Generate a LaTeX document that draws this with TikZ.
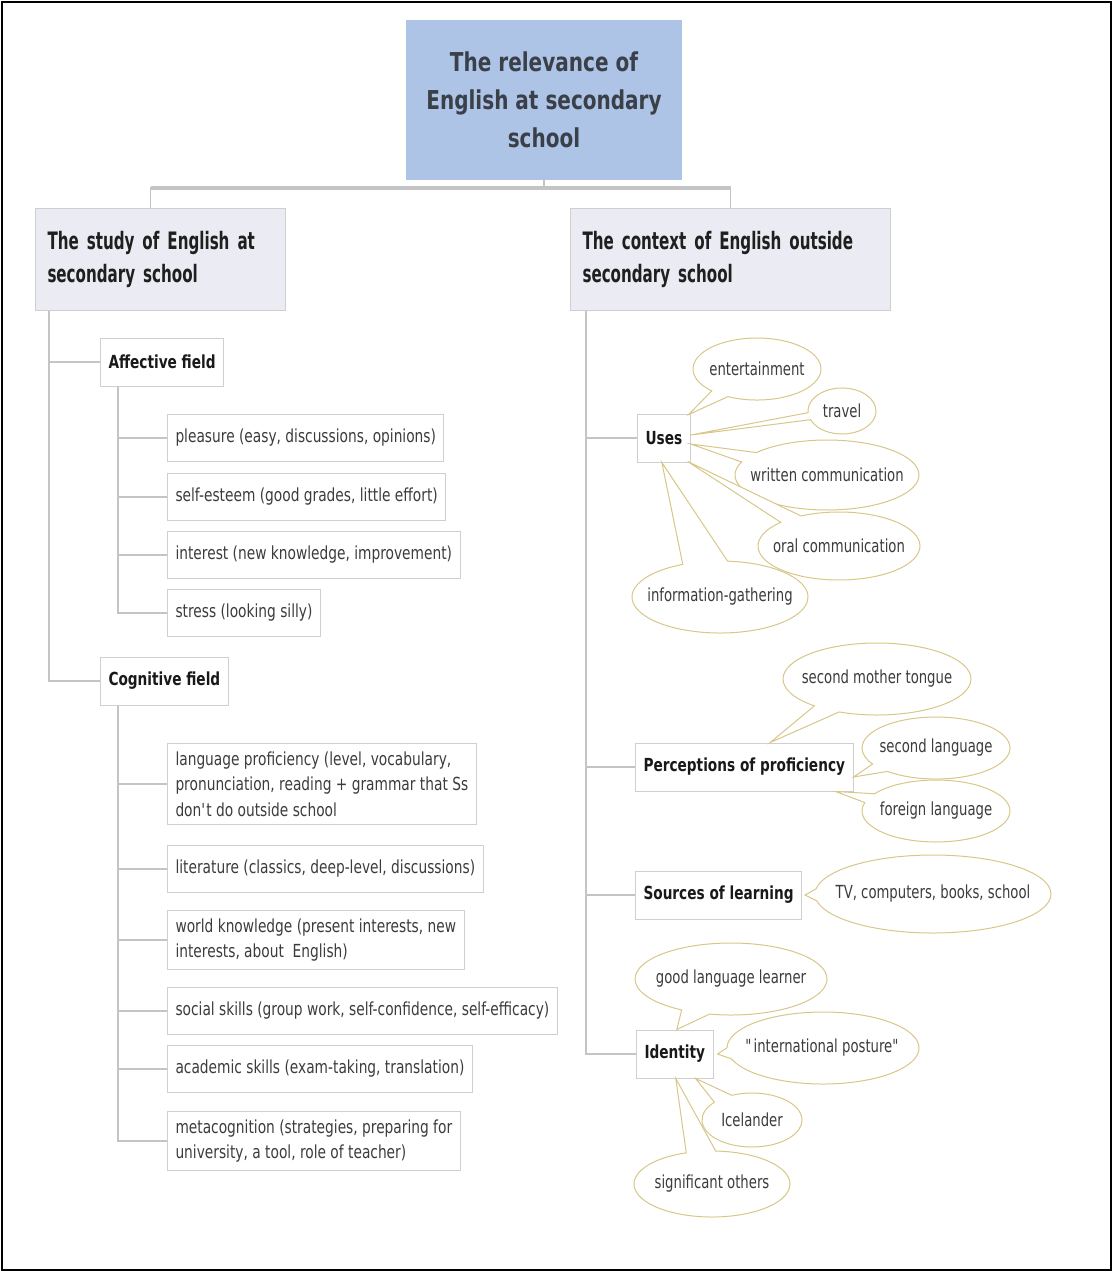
\documentclass[tikz,border=0pt]{standalone}
\usepackage{fontspec}
\setmainfont{DejaVu Sans}[FakeStretch=0.75]
\newfontfamily\rootfont{DejaVu Sans}[FakeStretch=0.77]
\newfontfamily\topicfont{DejaVu Sans}[FakeStretch=0.63, WordSpace=0.75]
\newfontfamily\subfont{DejaVu Sans}[FakeStretch=0.76]
\newfontfamily\leaffont{DejaVu Sans}[FakeStretch=0.765]
\newfontfamily\bubblefont{DejaVu Sans}[FakeStretch=0.735]
\usetikzlibrary{shapes.callouts}

\definecolor{rootblue}{HTML}{AEC4E7}
\definecolor{roottext}{HTML}{3A3F48}
\definecolor{topicfill}{HTML}{EBEBF3}
\definecolor{boxline}{HTML}{CFCFCF}
\definecolor{treeline}{HTML}{C4C4C4}
\definecolor{leaftext}{HTML}{3C3C3C}
\definecolor{bubbleline}{HTML}{D8C788}

% bubble labels take no width, so the ellipse keeps its set size
\newcommand{\bubbletext}[1]{\makebox[0pt][c]{#1}}

\tikzset{
  rootbox/.style={fill=rootblue, draw=none, minimum width=276pt, minimum height=160pt,
    align=center, text=roottext, font=\rootfont\fontsize{26}{38}\selectfont\bfseries},
  topicbox/.style={fill=topicfill, draw=boxline, line width=1pt, anchor=north west,
    minimum height=102pt, inner xsep=12pt, align=left, text=black!88,
    font=\topicfont\fontsize{24}{33}\selectfont\bfseries},
  subbox/.style={draw=boxline, fill=white, line width=1pt, anchor=west,
    minimum height=48pt, inner xsep=8pt, text=black!90,
    font=\subfont\fontsize{18}{22}\selectfont\bfseries},
  leafbox/.style={draw=boxline, fill=white, line width=1pt, anchor=west,
    minimum height=47pt, inner xsep=8pt, inner ysep=8pt, align=left, text=leaftext,
    font=\leaffont\fontsize{18}{25.7}\selectfont},
  bubble/.style={ellipse callout, draw=bubbleline, line width=1pt, fill=white,
    inner sep=0pt, text=leaftext, font=\bubblefont\fontsize{18}{22}\selectfont,
    callout pointer arc=18},
  tree/.style={draw=treeline, line width=1.3pt},
}

\begin{document}
\begin{tikzpicture}[x=1pt, y=-1pt]
\useasboundingbox (0,0) rectangle (1113,1272);
\draw[line width=2.6pt] (2,2) rectangle (1111,1270);

% central topic and the two main branches
\node[rootbox] (root) at (544,100) {The relevance of\\English at secondary\\school};
\node[topicbox, text width=226pt] (study) at (35,208) {The study of English at\\secondary school};
\node[topicbox, text width=296pt] (context) at (570,208) {The context of English outside\\secondary school};

\coordinate (fork) at (544,188);
\draw[tree] (root.south) -- (fork);
\draw[draw=treeline, line width=3.2pt] ([xshift=-10pt]study.north |- fork) -- (context.north |- fork);
\draw[tree] (fork) -| ([xshift=-10pt]study.north);
\draw[tree] (fork) -| (context.north);

% study branch
\node[subbox] (aff) at (100,362) {Affective field};
\node[subbox] (cog) at (100,681) {Cognitive field};
\draw[tree] ([xshift=14pt]study.south west) |- (aff.west);
\draw[tree] ([xshift=14pt]study.south west) |- (cog.west);

\node[leafbox] (pleasure) at (167,438) {pleasure (easy, discussions, opinions)};
\node[leafbox] (esteem) at (167,497) {self-esteem (good grades, little effort)};
\node[leafbox] (interest) at (167,555) {interest (new knowledge, improvement)};
\node[leafbox] (stress) at (167,613) {stress (looking silly)};
\foreach \n in {pleasure,esteem,interest,stress}
  \draw[tree] ([xshift=18pt]aff.south west) |- (\n.west);

\node[leafbox] (lang) at (167,784) {language proficiency (level, vocabulary,\\pronunciation, reading + grammar that Ss\\don\textquotesingle t do outside school};
\node[leafbox] (lit) at (167,869) {literature (classics, deep-level, discussions)};
\node[leafbox] (world) at (167,940) {world knowledge (present interests, new\\interests, about\ \ English)};
\node[leafbox] (social) at (167,1011) {social skills (group work, self-confidence, self-efficacy)};
\node[leafbox] (acad) at (167,1069) {academic skills (exam-taking, translation)};
\node[leafbox] (meta) at (167,1141) {metacognition (strategies, preparing for\\university, a tool, role of teacher)};
\foreach \n in {lang,lit,world,social,acad,meta}
  \draw[tree] ([xshift=18pt]cog.south west) |- (\n.west);

% context branch
\node[subbox] (uses) at (637,438) {Uses};
\node[subbox] (perc) at (635,767) {Perceptions of proficiency};
\node[subbox] (src) at (635,895) {Sources of learning};
\node[subbox] (ident) at (636,1054) {Identity};
\foreach \n in {uses,perc,src,ident}
  \draw[tree] ([xshift=16pt]context.south west) |- (\n.west);

% callouts for Uses
\node[bubble, minimum width=128pt, minimum height=62pt,
  callout absolute pointer={([xshift=-2pt,yshift=-1pt]uses.north east)}] (ent) at (757,369) {\bubbletext{entertainment}};
\node[bubble, minimum width=68pt, minimum height=46pt,
  callout absolute pointer={([yshift=3pt]uses.east)}] (travel) at (842,411) {\bubbletext{travel}};
\node[bubble, minimum width=184pt, minimum height=70pt,
  callout absolute pointer={([yshift=-6pt]uses.east)}] (written) at (827,475) {\bubbletext{written communication}};
\node[bubble, minimum width=162pt, minimum height=68pt,
  callout absolute pointer={([xshift=-3pt,yshift=1pt]uses.south east)}] (oral) at (839,546) {\bubbletext{oral communication}};
\node[bubble, minimum width=176pt, minimum height=72pt, callout pointer arc=30,
  callout absolute pointer={([xshift=-2pt]uses.south)}] (info) at (720,597) {\bubbletext{information-gathering}};

% callouts for perceptions of proficiency
\node[bubble, minimum width=188pt, minimum height=72pt,
  callout absolute pointer={([xshift=26pt]perc.north)}] (smt) at (877,679) {\bubbletext{second mother tongue}};
\node[bubble, minimum width=148pt, minimum height=62pt,
  callout absolute pointer={([yshift=-10pt]perc.east)}] (sl) at (936,748) {\bubbletext{second language}};
\node[bubble, minimum width=148pt, minimum height=62pt,
  callout absolute pointer={([xshift=-18pt]perc.south east)}] (fl) at (936,811) {\bubbletext{foreign language}};

% callout for sources of learning
\node[bubble, minimum width=236pt, minimum height=78pt,
  callout absolute pointer={([xshift=3pt]src.east)}] (tv) at (933,894) {\bubbletext{TV, computers, books, school}};

% callouts for identity
\node[bubble, minimum width=192pt, minimum height=72pt,
  callout absolute pointer={([xshift=2pt]ident.north)}] (good) at (731,979) {\bubbletext{good language learner}};
\node[bubble, minimum width=192pt, minimum height=72pt,
  callout absolute pointer={([xshift=4pt]ident.east)}] (intl) at (823,1048) {\bubbletext{\textquotedbl{}international posture\textquotedbl}};
\node[bubble, minimum width=100pt, minimum height=54pt, callout pointer arc=25,
  callout absolute pointer={([xshift=-18pt]ident.south east)}] (ice) at (752,1120) {\bubbletext{Icelander}};
\node[bubble, minimum width=156pt, minimum height=66pt, callout pointer arc=22,
  callout absolute pointer={([xshift=1pt]ident.south)}] (sig) at (712,1184) {\bubbletext{significant others}};
\end{tikzpicture}
\end{document}
